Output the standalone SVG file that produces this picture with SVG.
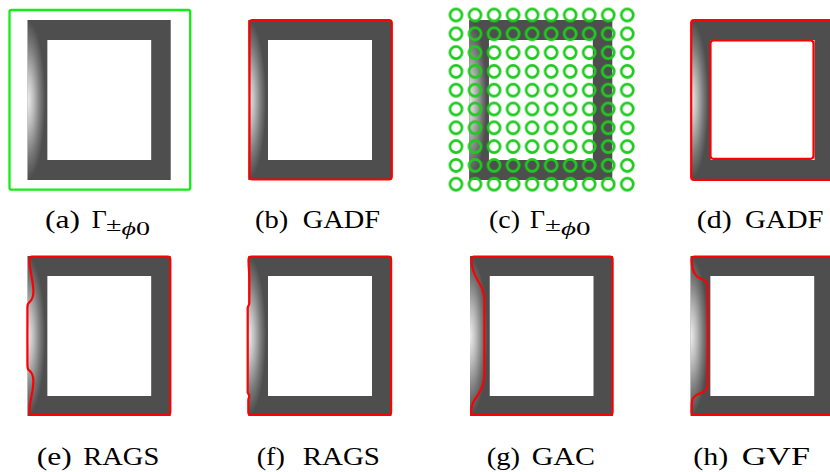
<svg xmlns="http://www.w3.org/2000/svg" width="830" height="472" viewBox="0 0 830 472">
  <defs>
    <style>
      .frame { fill: #4e4e4e; fill-rule: evenodd; }
      .contour { fill: none; stroke: #ff0000; stroke-width: 2.2; stroke-linejoin: round; }
      .init { fill: none; stroke: #11ee11; stroke-width: 2.3; }
      .cap { font-family: "Liberation Serif", "DejaVu Serif", serif; font-size: 26px; fill: #000; }
      .sub { font-family: "Liberation Serif", "DejaVu Serif", serif; font-size: 19px; fill: #000; }
      .it { font-style: italic; }
    </style>
    <!-- bright fall-off on the left bar of the frame -->
    <radialGradient id="glow" cx="0" cy="0.5" r="1" gradientTransform="translate(0 0.5) scale(1 0.55) translate(0 -0.5)">
      <stop offset="0" stop-color="#eeeeee"/>
      <stop offset="0.3" stop-color="#bdbdbd"/>
      <stop offset="0.65" stop-color="#777777"/>
      <stop offset="0.9" stop-color="#4e4e4e"/>
      <stop offset="1" stop-color="#4e4e4e"/>
    </radialGradient>
    <!-- grid of initial level-set circles -->
    <pattern id="rings" patternUnits="userSpaceOnUse" x="446.5" y="5.6" width="19.03" height="18.8">
      <circle cx="9.515" cy="9.4" r="6" fill="none" stroke="#1ecb1e" stroke-width="2.7"/>
    </pattern>
    <!-- square frame image, 143 x 160 -->
    <g id="frame">
      <path class="frame" d="M0,0 H143 V160 H0 Z M19.5,20 V140 H123.5 V20 Z"/>
      <rect x="0" y="0" width="19.5" height="160" fill="url(#glow)"/>
    </g>
  </defs>

  <rect width="830" height="472" fill="#ffffff"/>

  <!-- (a) initial contour -->
  <g id="panel-a">
    <use href="#frame" transform="translate(27.7,20)"/>
    <rect class="init" x="9.5" y="10" width="180.7" height="179.7" rx="2"/>
  </g>

  <!-- (b) GADF from box initialisation -->
  <g id="panel-b">
    <use href="#frame" transform="translate(248.5,20)"/>
    <rect class="contour" x="249.5" y="20" width="142.3" height="159.5" rx="3"/>
  </g>

  <!-- (c) initial circles -->
  <g id="panel-c">
    <use href="#frame" transform="translate(469.3,20)"/>
    <rect x="446.5" y="5.6" width="190.3" height="188" fill="url(#rings)"/>
  </g>

  <!-- (d) GADF from circles -->
  <g id="panel-d">
    <use href="#frame" transform="translate(691,20)"/>
    <path class="contour" d="M840,20 H694 Q691.2,20 691.2,23 V177 Q691.2,179.8 694,179.8 H840"/>
    <rect class="contour" x="710.5" y="40.5" width="103" height="118.3" rx="3"/>
  </g>

  <!-- (e) RAGS -->
  <g id="panel-e">
    <use href="#frame" transform="translate(27.7,256)"/>
    <path class="contour" d="M32,256.5 H167.5 Q170.3,256.5 170.3,259.5 V412 Q170.3,414.8 167.5,414.8 H32 Q29.4,414.8 29.4,412 C29.4,402 33.4,392 33.4,381 C33.4,374 31,372 28.2,369.5 C27.4,368.5 27.4,367 27.4,364 V307 C27.4,304.5 28,303.3 29.2,302.3 C32,300 33.4,298 33.4,292 C33.4,280 29.4,270 29.4,260 Q29.4,256.5 32,256.5 Z"/>
  </g>

  <!-- (f) RAGS -->
  <g id="panel-f">
    <use href="#frame" transform="translate(248.5,256)"/>
    <path class="contour" d="M251.5,256.5 H388.3 Q391.1,256.5 391.1,259.5 V412 Q391.1,414.8 388.3,414.8 H251 Q248.3,414.8 248.3,412 V400 C248.3,398 249.3,397.5 249.3,396 C249.3,394.5 247.7,394 247.7,392 V308 C247.7,306 249.3,305.5 249.3,303 V280 C249.3,272 248.5,266 248.5,260 Q248.5,256.5 251.5,256.5 Z"/>
  </g>

  <!-- (g) GAC -->
  <g id="panel-g">
    <use href="#frame" transform="translate(470,256)"/>
    <path class="contour" d="M474,256.5 H609.8 Q612.6,256.5 612.6,259.5 V412 Q612.6,414.8 609.8,414.8 H474 Q471,414.8 471,412 C471,404 475,399 479,393 C483,387 484.4,382 484.4,373 V300 C484.4,292 481,286 477,279 C473,272 471.6,266 471.6,260 Q471.6,256.5 474,256.5 Z"/>
  </g>

  <!-- (h) GVF -->
  <g id="panel-h">
    <use href="#frame" transform="translate(690.7,256)"/>
    <path class="contour" d="M840,256.5 H694.5 Q691.6,256.5 691.6,259.5 C691.6,266 692.5,272 697,276.5 C700,279 705,279.5 707,283 C707.8,285 707.8,287 707.8,290 V384 C707.8,388 706,391 702,392.5 C697,394 693,396 692,401 C691.6,405 691.6,408 691.6,412 Q691.6,414.8 694.5,414.8 H840"/>
  </g>

  <!-- captions -->
  <g id="captions">
    <text class="cap" x="45" y="227.5" textLength="35" lengthAdjust="spacingAndGlyphs">(a)</text>
    <text class="cap" x="91.7" y="227.5">Γ</text>
    <text class="sub" x="106" y="234.5" textLength="44" lengthAdjust="spacingAndGlyphs"><tspan dy="-3.5">±</tspan><tspan class="it" dy="3.5">ϕ</tspan>0</text>

    <text class="cap" x="255" y="227.5" textLength="33.3" lengthAdjust="spacingAndGlyphs">(b)</text>
    <text class="cap" x="302.7" y="227.5" textLength="77.3" lengthAdjust="spacingAndGlyphs">GADF</text>

    <text class="cap" x="489" y="227.5" textLength="31" lengthAdjust="spacingAndGlyphs">(c)</text>
    <text class="cap" x="530" y="227.5">Γ</text>
    <text class="sub" x="545" y="234.5" textLength="45.5" lengthAdjust="spacingAndGlyphs"><tspan dy="-3.5">±</tspan><tspan class="it" dy="3.5">ϕ</tspan>0</text>

    <text class="cap" x="696.7" y="227.5" textLength="35" lengthAdjust="spacingAndGlyphs">(d)</text>
    <text class="cap" x="745" y="227.5" textLength="78.5" lengthAdjust="spacingAndGlyphs">GADF</text>

    <text class="cap" x="36.7" y="465" textLength="35" lengthAdjust="spacingAndGlyphs">(e)</text>
    <text class="cap" x="83.3" y="465" textLength="76" lengthAdjust="spacingAndGlyphs">RAGS</text>

    <text class="cap" x="256.7" y="465" textLength="28.3" lengthAdjust="spacingAndGlyphs">(f)</text>
    <text class="cap" x="302.7" y="465" textLength="77.3" lengthAdjust="spacingAndGlyphs">RAGS</text>

    <text class="cap" x="486.7" y="465" textLength="33.3" lengthAdjust="spacingAndGlyphs">(g)</text>
    <text class="cap" x="531.7" y="465" textLength="63.3" lengthAdjust="spacingAndGlyphs">GAC</text>

    <text class="cap" x="693.3" y="465" textLength="35" lengthAdjust="spacingAndGlyphs">(h)</text>
    <text class="cap" x="741.7" y="465" textLength="68.3" lengthAdjust="spacingAndGlyphs">GVF</text>
  </g>
</svg>
